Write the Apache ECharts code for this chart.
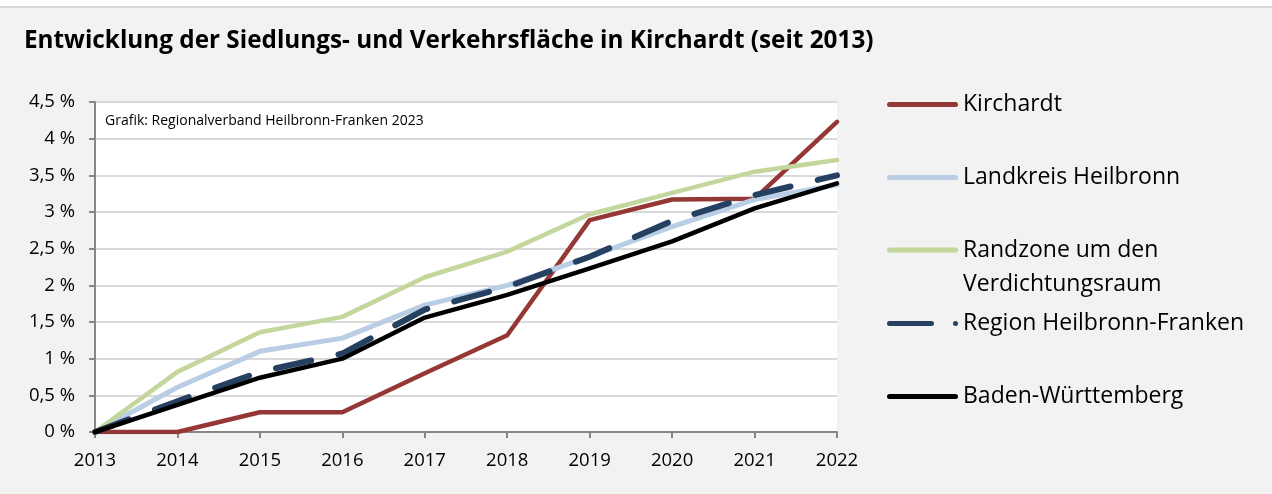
<!DOCTYPE html>
<html>
<head>
<meta charset="utf-8">
<script src="https://cdn.jsdelivr.net/npm/echarts@6/dist/echarts.min.js"></script>
<style>
  html, body { margin: 0; padding: 0; background: #f2f2f2; }
  #chart { width: 1272px; height: 494px; }
</style>
</head>
<body>
<div id="chart"></div>
<script>
// Jahre und Zuwachs der Siedlungs- und Verkehrsfläche gegenüber 2013 (in %)
const years = ['2013', '2014', '2015', '2016', '2017', '2018', '2019', '2020', '2021', '2022'];
const kirchardt     = [0, 0, 0.27, 0.27, 0.80, 1.32, 2.89, 3.17, 3.18, 4.23];
const landkreisHN   = [0, 0.61, 1.10, 1.28, 1.73, 2.00, 2.39, 2.80, 3.17, 3.37];
const randzone      = [0, 0.82, 1.36, 1.57, 2.11, 2.46, 2.97, 3.26, 3.55, 3.71];
const regionHNF     = [0, 0.42, 0.82, 1.07, 1.67, 1.98, 2.39, 2.88, 3.23, 3.50];
const badenWuerttem = [0, 0.37, 0.74, 1.00, 1.56, 1.87, 2.23, 2.60, 3.05, 3.39];

const seriesNames = ['Kirchardt', 'Landkreis Heilbronn', 'Randzone um den Verdichtungsraum',
                     'Region Heilbronn-Franken', 'Baden-Württemberg'];
const yTicks = [0, 0.5, 1, 1.5, 2, 2.5, 3, 3.5, 4, 4.5];

const FONT = 'Open Sans';
const chart = echarts.init(document.getElementById('chart'), null, { renderer: 'canvas' });

function line(name, data, color, width, dash) {
  return {
    name, type: 'line', data, symbol: 'none', smooth: false,
    lineStyle: { color, width, type: dash || 'solid', cap: 'round', join: 'round' },
    itemStyle: { color },
    emphasis: { disabled: true }
  };
}

// legend keys: rounded bar, or long dash followed by a dot
const ICON_SOLID = 'path://M2.5,0 H68.5 A2.5,2.5 0 0 1 68.5,5 H2.5 A2.5,2.5 0 0 1 2.5,0 Z';
const ICON_DASH = 'path://M2.5,0 H44.5 A2.5,2.5 0 0 1 44.5,5 H2.5 A2.5,2.5 0 0 1 2.5,0 Z ' +
                  'M68.5,0 A2.5,2.5 0 0 1 68.5,5 A2.5,2.5 0 0 1 68.5,0 Z M0,2.5 L0.01,2.5 M71,2.5 L70.99,2.5';

const LEG_FONT = 23;
const legendCenters = [103, 176, 248, 322, 395];

function legendFor(i) {
  const name = seriesNames[i];
  const twoLine = i === 2;
  return {
    orient: 'vertical', left: 887, padding: 0,
    top: twoLine ? legendCenters[i] - 49 : legendCenters[i] - 10,
    itemWidth: 71, itemHeight: 5,
    icon: i === 3 ? ICON_DASH : ICON_SOLID,
    itemStyle: { borderWidth: 0 },
    lineStyle: { width: 0 },
    selectedMode: false,
    data: [name],
    formatter: twoLine ? ' \nRandzone um den\nVerdichtungsraum' : '{name}',
    textStyle: twoLine
      ? { fontFamily: FONT, fontSize: LEG_FONT, color: '#000', lineHeight: 34 }
      : { fontFamily: FONT, fontSize: LEG_FONT, color: '#000' }
  };
}

chart.setOption({
  backgroundColor: '#f2f2f2',
  animation: false,
  title: {
    text: 'Entwicklung der Siedlungs- und Verkehrsfläche in Kirchardt (seit 2013)',
    left: 19, top: 24,
    textStyle: { fontFamily: FONT, fontWeight: 'bold', fontSize: 24.3, color: '#000' }
  },
  graphic: [
    { type: 'rect', left: 0, top: 0, shape: { width: 1272, height: 6 }, style: { fill: '#fff' }, silent: true },
    { type: 'rect', left: 0, top: 6, shape: { width: 1272, height: 2 }, style: { fill: '#d9d9d9' }, silent: true },
    { type: 'text', left: 105, top: 114,
      style: { text: 'Grafik: Regionalverband Heilbronn-Franken 2023', fontFamily: FONT, fontSize: 14, fill: '#000' } }
  ],
  legend: seriesNames.map((n, i) => legendFor(i)),
  grid: {
    left: 95, right: 435, top: 102, bottom: 62,
    show: true, backgroundColor: '#ffffff', borderWidth: 0
  },
  xAxis: {
    type: 'category', data: years, boundaryGap: false,
    axisLine: { lineStyle: { color: '#868686', width: 2 } },
    axisTick: { show: true, length: 6, lineStyle: { color: '#868686', width: 2 } },
    axisLabel: { fontFamily: FONT, fontSize: 18.5, color: '#000', margin: 19 },
    splitLine: { show: false }
  },
  yAxis: {
    type: 'value', min: 0, max: 4.5, interval: 0.5,
    axisLine: { show: true, lineStyle: { color: '#868686', width: 2 } },
    axisTick: { show: true, length: 6, lineStyle: { color: '#868686', width: 2 } },
    axisLabel: {
      fontFamily: FONT, fontSize: 18.5, color: '#000', margin: 20,
      formatter: v => (yTicks.includes(v) ? String(v).replace('.', ',') + ' %' : '')
    },
    splitLine: { lineStyle: { color: '#d9d9d9', width: 2 } }
  },
  series: [
    line(seriesNames[0], kirchardt, '#953735', 4.5),
    line(seriesNames[1], landkreisHN, '#b9cde5', 5),
    line(seriesNames[2], randzone, '#c3d69b', 4.5),
    line(seriesNames[3], regionHNF, '#254061', 6, [36, 28]),
    line(seriesNames[4], badenWuerttem, '#000000', 4.5)
  ]
});
</script>
</body>
</html>
